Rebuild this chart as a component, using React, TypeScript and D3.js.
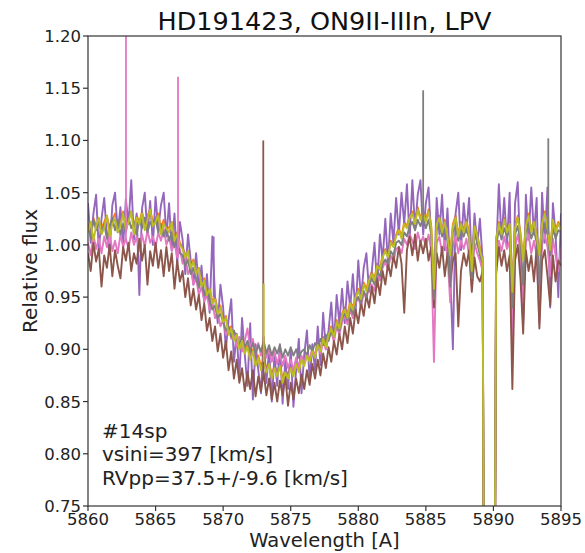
import * as d3 from 'd3';

const width = 585;
const height = 553;
const margin = { top: 36, right: 24, bottom: 47, left: 88 };

// wavelength grid of the spectra, 0.2 A sampling
const wavelengths = d3.range(0, 176).map((i) => 5860 + i * 0.2);

const xTicks = [5860, 5865, 5870, 5875, 5880, 5885, 5890, 5895];
const yTicks = [0.75, 0.8, 0.85, 0.9, 0.95, 1.0, 1.05, 1.1, 1.15, 1.2];

// flux values, one row per Angstrom
const orangeFlux = [
  1.020, 1.014, 1.026, 1.018, 1.024, 1.016, 1.022, 1.028, 1.014, 1.024,
  1.030, 1.018, 1.024, 1.032, 1.020, 1.026, 1.032, 1.018, 1.028, 1.022,
  1.032, 1.020, 1.028, 1.034, 1.022, 1.026, 1.030, 1.016, 1.024, 1.018,
  1.016, 1.022, 1.008, 1.012, 1.002, 0.998, 0.990, 0.994, 0.982, 0.986,
  0.974, 0.978, 0.964, 0.968, 0.956, 0.958, 0.946, 0.950, 0.938, 0.942,
  0.928, 0.932, 0.918, 0.922, 0.910, 0.914, 0.904, 0.910, 0.898, 0.904,
  0.894, 0.900, 0.888, 0.894, 0.884, 0.890, 0.882, 0.888, 0.876, 0.884,
  0.878, 0.886, 0.872, 0.880, 0.876, 0.884, 0.878, 0.888, 0.882, 0.892,
  0.888, 0.896, 0.890, 0.900, 0.894, 0.906, 0.900, 0.912, 0.906, 0.916,
  0.922, 0.916, 0.928, 0.922, 0.934, 0.940, 0.934, 0.946, 0.940, 0.952,
  0.958, 0.952, 0.964, 0.958, 0.968, 0.974, 0.968, 0.982, 0.978, 0.990,
  0.996, 0.990, 1.004, 1.000, 1.010, 1.016, 1.008, 1.022, 1.018, 1.028,
  1.032, 1.022, 1.036, 1.026, 1.032, 1.024, 1.034, 1.018, 0.960, 1.022,
  1.028, 1.014, 1.024, 1.010, 0.992, 1.020, 1.028, 1.010, 1.022, 1.014,
  1.024, 1.012, 0.978, 1.020, 1.010, 0.998, 0.988, 0.300, 0.200, 0.250,
  0.300, 1.006, 1.022, 1.012, 1.026, 1.014, 1.022, 0.958, 1.018, 1.028,
  1.012, 0.988, 1.020, 1.030, 1.014, 1.024, 1.010, 0.992, 1.022, 1.032,
  1.018, 0.996, 1.026, 1.014, 1.022, 1.016,
];

const purpleFlux = [
  1.040, 1.002, 1.030, 1.048, 0.995, 1.025, 1.045, 1.008, 0.992, 1.038,
  1.050, 1.012, 1.036, 0.998, 1.044, 1.020, 1.062, 1.005, 1.030, 0.952,
  1.035, 1.050, 1.010, 1.042, 1.000, 1.046, 1.015, 1.038, 1.050, 1.008,
  1.040, 0.995, 1.030, 0.982, 1.022, 1.005, 0.972, 1.010, 0.985, 0.962,
  0.992, 0.958, 0.980, 0.945, 0.972, 0.935, 1.008, 0.950, 0.925, 0.962,
  0.940, 0.900, 0.928, 0.948, 0.888, 0.915, 0.872, 0.930, 0.895, 0.865,
  0.925, 0.852, 0.905, 0.880, 0.858, 0.912, 0.868, 0.900, 0.850, 0.895,
  0.865, 0.905, 0.848, 0.890, 0.862, 0.900, 0.845, 0.880, 0.910, 0.858,
  0.895, 0.918, 0.870, 0.905, 0.880, 0.922, 0.885, 0.935, 0.900, 0.918,
  0.945, 0.905, 0.952, 0.925, 0.958, 0.925, 0.965, 0.940, 0.972, 0.935,
  0.985, 0.948, 0.978, 0.992, 0.955, 0.975, 1.002, 0.960, 1.010, 0.985,
  1.025, 0.982, 1.030, 1.002, 1.045, 1.010, 1.050, 1.020, 1.058, 1.005,
  1.062, 1.015, 1.048, 1.062, 1.010, 1.040, 1.055, 1.005, 0.960, 1.045,
  1.010, 1.048, 0.995, 1.035, 0.975, 0.900, 1.030, 1.050, 0.995, 1.040,
  1.012, 1.045, 0.980, 1.030, 1.000, 1.025, 0.985, 0.300, 0.200, 0.250,
  0.300, 0.990, 1.058, 1.005, 1.045, 1.000, 1.050, 0.930, 1.040, 1.060,
  0.985, 0.925, 1.048, 1.005, 1.055, 1.010, 1.045, 0.935, 1.050, 1.002,
  1.055, 0.940, 1.040, 1.010, 0.950, 1.030,
];

const pinkFlux = [
  1.002, 0.990, 1.010, 0.996, 1.006, 0.992, 1.008, 0.998, 1.012, 0.994,
  1.004, 0.992, 1.010, 0.998, 1.006, 0.996, 1.012, 1.000, 1.008, 0.994,
  1.010, 0.998, 1.014, 1.002, 1.008, 0.998, 1.012, 1.004, 1.016, 1.000,
  1.008, 0.994, 1.002, 0.988, 0.996, 0.982, 0.990, 0.972, 0.978, 0.962,
  0.968, 0.952, 0.960, 0.946, 0.952, 0.938, 0.946, 0.930, 0.936, 0.922,
  0.928, 0.914, 0.922, 0.910, 0.918, 0.902, 0.912, 0.898, 0.908, 0.920,
  0.900, 0.910, 0.896, 0.906, 0.894, 0.904, 0.892, 0.900, 0.888, 0.898,
  0.886, 0.896, 0.884, 0.894, 0.882, 0.890, 0.880, 0.892, 0.884, 0.894,
  0.886, 0.896, 0.890, 0.900, 0.894, 0.904, 0.896, 0.908, 0.900, 0.912,
  0.916, 0.908, 0.922, 0.914, 0.926, 0.932, 0.924, 0.938, 0.930, 0.944,
  0.950, 0.940, 0.954, 0.948, 0.960, 0.962, 0.956, 0.972, 0.966, 0.978,
  0.984, 0.976, 0.990, 0.984, 0.996, 0.998, 0.992, 1.006, 1.000, 1.010,
  1.004, 0.996, 1.012, 1.002, 1.008, 0.998, 1.010, 0.994, 0.888, 1.002,
  1.008, 0.992, 1.004, 0.990, 0.945, 0.998, 1.008, 0.992, 1.004, 0.996,
  1.006, 0.990, 0.960, 1.002, 0.992, 0.985, 0.975, 0.300, 0.200, 0.250,
  0.300, 0.990, 1.004, 0.994, 1.008, 0.996, 1.004, 0.905, 0.998, 1.010,
  0.994, 0.945, 1.002, 1.010, 0.992, 1.004, 0.990, 0.925, 1.000, 1.010,
  0.998, 0.970, 1.006, 0.990, 0.975, 0.998,
];

const brownFlux = [
  0.992, 0.975, 1.002, 0.984, 0.996, 0.960, 0.990, 0.978, 1.000, 0.970,
  0.995, 0.980, 0.968, 0.998, 0.985, 1.002, 0.975, 0.992, 0.982, 1.006,
  0.985, 1.000, 0.962, 0.994, 0.980, 1.002, 0.978, 0.995, 0.970, 0.998,
  0.975, 0.992, 0.958, 0.985, 0.965, 0.975, 0.950, 0.968, 0.942, 0.958,
  0.938, 0.952, 0.928, 0.944, 0.918, 0.930, 0.908, 0.922, 0.898, 0.915,
  0.892, 0.908, 0.880, 0.898, 0.872, 0.890, 0.868, 0.882, 0.860, 0.878,
  0.862, 0.880, 0.855, 0.874, 0.860, 0.878, 0.856, 0.872, 0.852, 0.868,
  0.850, 0.870, 0.856, 0.874, 0.846, 0.868, 0.852, 0.872, 0.858, 0.876,
  0.862, 0.880, 0.866, 0.886, 0.872, 0.890, 0.875, 0.896, 0.882, 0.902,
  0.888, 0.908, 0.895, 0.915, 0.900, 0.922, 0.906, 0.930, 0.915, 0.938,
  0.925, 0.945, 0.932, 0.952, 0.940, 0.960, 0.944, 0.968, 0.952, 0.975,
  0.962, 0.982, 0.970, 0.990, 0.978, 0.998, 0.982, 0.935, 0.995, 1.008,
  0.990, 1.010, 0.985, 1.004, 0.992, 1.006, 0.985, 0.998, 0.940, 0.992,
  0.978, 0.998, 0.970, 0.992, 0.965, 0.985, 0.992, 0.922, 0.975, 0.992,
  0.980, 0.995, 0.955, 0.988, 0.970, 0.965, 0.975, 0.300, 0.200, 0.250,
  0.300, 0.972, 0.998, 0.980, 0.995, 0.975, 0.990, 0.862, 0.985, 1.000,
  0.968, 0.915, 0.995, 0.975, 0.990, 0.965, 0.998, 0.920, 0.985, 0.995,
  0.970, 0.942, 0.990, 0.965, 0.985, 0.980,
];

const grayFlux = [
  1.018, 1.008, 1.024, 1.014, 1.022, 1.012, 1.020, 1.006, 1.018, 1.026,
  1.014, 1.024, 1.010, 1.020, 1.012, 1.026, 1.016, 1.022, 1.010, 1.024,
  1.016, 1.026, 1.012, 1.022, 1.018, 1.024, 1.012, 1.020, 1.008, 1.016,
  1.004, 1.012, 0.998, 1.006, 0.992, 0.990, 0.980, 0.986, 0.972, 0.978,
  0.968, 0.960, 0.964, 0.952, 0.956, 0.946, 0.938, 0.942, 0.930, 0.934,
  0.926, 0.918, 0.922, 0.912, 0.918, 0.910, 0.904, 0.912, 0.902, 0.908,
  0.898, 0.906, 0.896, 0.904, 0.898, 0.908, 0.896, 0.904, 0.894, 0.902,
  0.896, 0.904, 0.892, 0.900, 0.894, 0.902, 0.894, 0.900, 0.892, 0.898,
  0.900, 0.894, 0.904, 0.898, 0.906, 0.902, 0.910, 0.904, 0.914, 0.908,
  0.918, 0.912, 0.924, 0.918, 0.930, 0.934, 0.928, 0.940, 0.934, 0.946,
  0.950, 0.944, 0.956, 0.950, 0.962, 0.968, 0.962, 0.974, 0.970, 0.982,
  0.986, 0.982, 0.994, 0.990, 1.002, 1.004, 1.000, 1.012, 1.008, 1.018,
  1.022, 1.014, 1.024, 1.018, 1.026, 1.016, 1.024, 1.010, 0.948, 1.014,
  1.020, 1.008, 1.016, 1.004, 0.960, 1.012, 1.018, 1.004, 1.014, 1.008,
  1.016, 1.006, 0.968, 1.012, 1.002, 0.990, 0.982, 0.300, 0.200, 0.250,
  0.300, 1.000, 1.014, 1.006, 1.016, 1.008, 1.014, 0.940, 1.010, 1.018,
  1.004, 0.962, 1.012, 1.020, 1.006, 1.014, 1.002, 0.962, 1.012, 1.020,
  1.010, 0.990, 1.016, 1.006, 1.014, 1.012,
];

const oliveFlux = [
  1.012, 1.022, 1.004, 1.018, 1.026, 1.010, 1.016, 1.028, 1.008, 1.020,
  1.025, 1.012, 1.018, 1.030, 1.015, 1.022, 1.032, 1.010, 1.026, 1.020,
  1.030, 1.014, 1.024, 1.034, 1.018, 1.022, 1.028, 1.010, 1.020, 1.016,
  1.012, 1.022, 1.004, 1.010, 1.000, 0.996, 0.988, 0.994, 0.978, 0.984,
  0.972, 0.978, 0.960, 0.966, 0.952, 0.958, 0.944, 0.948, 0.934, 0.940,
  0.926, 0.930, 0.914, 0.920, 0.908, 0.914, 0.900, 0.908, 0.896, 0.902,
  0.890, 0.898, 0.884, 0.892, 0.880, 0.888, 0.878, 0.886, 0.872, 0.882,
  0.874, 0.884, 0.868, 0.878, 0.872, 0.882, 0.874, 0.886, 0.878, 0.890,
  0.884, 0.894, 0.888, 0.898, 0.892, 0.904, 0.898, 0.910, 0.902, 0.914,
  0.920, 0.912, 0.926, 0.920, 0.932, 0.938, 0.930, 0.944, 0.938, 0.950,
  0.956, 0.948, 0.962, 0.956, 0.966, 0.972, 0.966, 0.980, 0.976, 0.988,
  0.994, 0.988, 1.002, 0.998, 1.008, 1.014, 1.006, 1.020, 1.016, 1.026,
  1.030, 1.020, 1.034, 1.024, 1.030, 1.022, 1.032, 1.016, 0.958, 1.020,
  1.026, 1.012, 1.022, 1.008, 0.990, 1.018, 1.026, 1.008, 1.020, 1.012,
  1.022, 1.010, 0.975, 1.018, 1.008, 0.995, 0.985, 0.300, 0.200, 0.250,
  0.300, 1.005, 1.020, 1.010, 1.024, 1.012, 1.020, 0.955, 1.016, 1.026,
  1.010, 0.985, 1.018, 1.028, 1.012, 1.022, 1.008, 0.990, 1.020, 1.030,
  1.016, 0.995, 1.024, 1.012, 1.020, 1.015,
];

// drawing order, bottom to top
const seriesNames = ['orange', 'purple', 'pink', 'brown', 'gray', 'olive'];
const seriesFlux = [orangeFlux, purpleFlux, pinkFlux, brownFlux, grayFlux, oliveFlux];
const seriesColors = ['#ff7f0e', '#9467bd', '#e377c2', '#8c564b', '#7f7f7f', '#bcbd22'];

// narrow emission spikes (cosmic hits): series, wavelength, peak flux
const spikes: [string, number, number][] = [
  ['pink', 5862.81, 1.21],
  ['pink', 5866.66, 1.161],
  ['purple', 5869.3, 1.008],
  ['brown', 5872.97, 1.1],
  ['olive', 5873.0, 0.963],
  ['gray', 5884.8, 1.148],
  ['gray', 5894.06, 1.102],
];

const annotations = ['#14sp', 'vsini=397 [km/s]', 'RVpp=37.5+/-9.6 [km/s]'];

const font = 'DejaVu Sans, sans-serif';

export default function App() {
  const x = d3
    .scaleLinear()
    .domain([5860, 5895])
    .range([margin.left, width - margin.right]);
  const y = d3
    .scaleLinear()
    .domain([0.75, 1.2])
    .range([height - margin.bottom, margin.top]);

  const line = d3
    .line<number>()
    .x((_, i) => x(wavelengths[i]))
    .y((d) => y(d));

  const x0 = margin.left;
  const x1 = width - margin.right;
  const y0 = height - margin.bottom;
  const y1 = margin.top;

  return (
    <svg
      width={width}
      height={height}
      style={{ position: 'absolute', left: 0, top: 0, background: '#fff' }}
      fontFamily={font}
    >
      <defs>
        <clipPath id="plot-area">
          <rect x={x0} y={y1} width={x1 - x0} height={y0 - y1} />
        </clipPath>
      </defs>

      <g clipPath="url(#plot-area)">
        {seriesFlux.map((flux, k) => (
          <path
            key={seriesNames[k]}
            d={line(flux) || ''}
            fill="none"
            stroke={seriesColors[k]}
            strokeWidth={1.9}
            strokeLinejoin="round"
          />
        ))}
        {spikes.map(([name, wl, top], k) => {
          const s = seriesNames.indexOf(name);
          const idx = d3.minIndex(wavelengths, (w) => Math.abs(w - wl));
          return (
            <line
              key={k}
              x1={x(wl)}
              x2={x(wl)}
              y1={y(seriesFlux[s][idx])}
              y2={y(top)}
              stroke={seriesColors[s]}
              strokeWidth={1.8}
            />
          );
        })}
      </g>

      {/* frame */}
      <rect x={x0} y={y1} width={x1 - x0} height={y0 - y1} fill="none" stroke="#333" strokeWidth={1.2} />

      {/* x axis */}
      {xTicks.map((t) => (
        <g key={t} transform={`translate(${x(t)},${y0})`}>
          <line y2={5} stroke="#333" strokeWidth={1.2} />
          <text y={19} textAnchor="middle" fontSize={16.5} fill="#222">
            {t}
          </text>
        </g>
      ))}

      {/* y axis */}
      {yTicks.map((t) => (
        <g key={t} transform={`translate(${x0},${y(t)})`}>
          <line x2={-5} stroke="#333" strokeWidth={1.2} />
          <text x={-7} dy="0.36em" textAnchor="end" fontSize={16.5} fill="#222">
            {t.toFixed(2)}
          </text>
        </g>
      ))}

      <text x={(x0 + x1) / 2} y={547} textAnchor="middle" fontSize={19.5} fill="#222">
        Wavelength [A]
      </text>
      <text
        transform={`translate(37,${(y0 + y1) / 2}) rotate(-90)`}
        textAnchor="middle"
        fontSize={20}
        fill="#222"
      >
        Relative flux
      </text>
      <text x={(x0 + x1) / 2} y={30} textAnchor="middle" fontSize={25.5} fill="#111">
        HD191423, ON9II-IIIn, LPV
      </text>

      {annotations.map((a, i) => (
        <text key={a} x={102} y={437.5 + i * 23.5} fontSize={20} fill="#222">
          {a}
        </text>
      ))}
    </svg>
  );
}
